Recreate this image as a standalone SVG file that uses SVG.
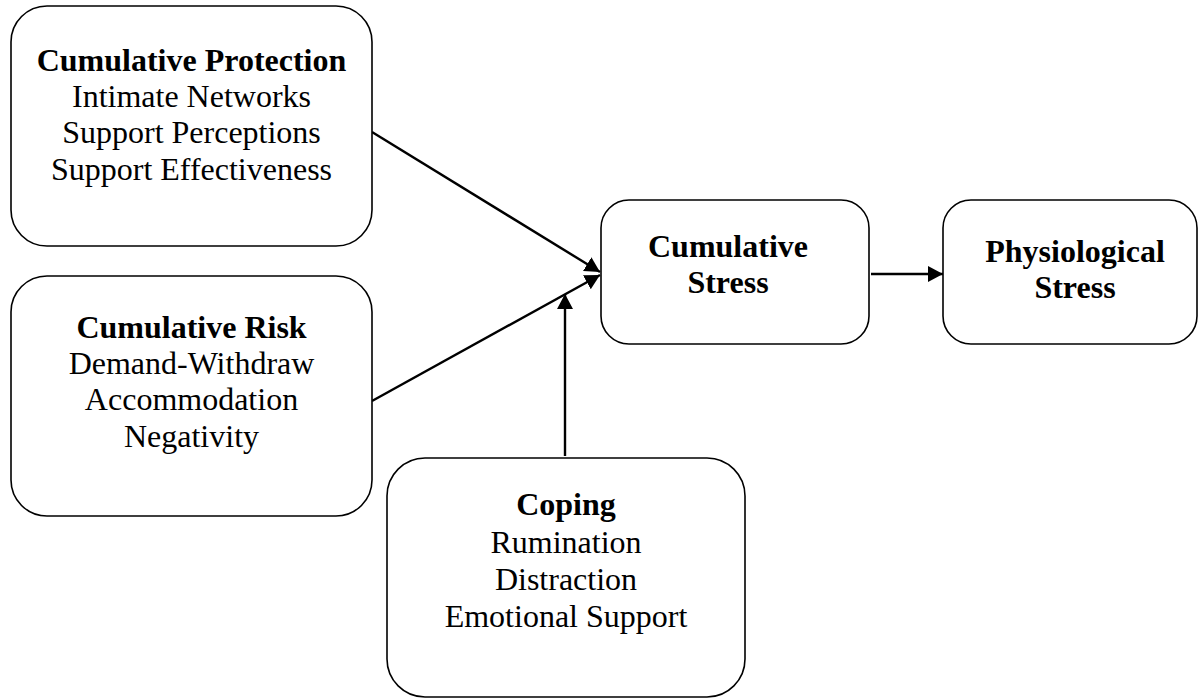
<svg xmlns="http://www.w3.org/2000/svg" width="1198" height="698" viewBox="0 0 1198 698">
<style>
.box{fill:#fff;stroke:#000;stroke-width:1.6}
.t{font-family:"Liberation Serif","Times New Roman",serif;font-size:32px;fill:#000;text-anchor:middle}
.b{font-weight:bold}
.c{stroke:#000;stroke-width:2.4;fill:none}
</style>
<defs>
<marker id="ah" markerUnits="userSpaceOnUse" markerWidth="16" markerHeight="17" refX="15" refY="8" orient="auto">
<path d="M0,0 L15,8 L0,16 z" fill="#000"/>
</marker>
</defs>
<rect width="1198" height="698" fill="#fff"/>
<g id="connectors">
<line class="c" x1="372" y1="132" x2="600" y2="272" marker-end="url(#ah)"/>
<line class="c" x1="372" y1="401" x2="600" y2="275" marker-end="url(#ah)"/>
<line class="c" x1="565" y1="456" x2="565" y2="294" marker-end="url(#ah)"/>
<line class="c" x1="871" y1="274" x2="943" y2="274" marker-end="url(#ah)"/>
</g>
<g id="protection">
<rect class="box" x="11" y="6" width="361" height="240" rx="36"/>
<text class="t b" x="191.5" y="71">Cumulative Protection</text>
<text class="t" x="191.5" y="107">Intimate Networks</text>
<text class="t" x="191.5" y="143">Support Perceptions</text>
<text class="t" x="191.5" y="180">Support Effectiveness</text>
</g>
<g id="risk">
<rect class="box" x="11" y="276" width="361" height="240" rx="36"/>
<text class="t b" x="191.5" y="338">Cumulative Risk</text>
<text class="t" x="191.5" y="374">Demand-Withdraw</text>
<text class="t" x="191.5" y="410">Accommodation</text>
<text class="t" x="191.5" y="447">Negativity</text>
</g>
<g id="coping">
<rect class="box" x="387" y="458" width="358" height="239" rx="38"/>
<text class="t b" x="566" y="515">Coping</text>
<text class="t" x="566" y="553">Rumination</text>
<text class="t" x="566" y="590">Distraction</text>
<text class="t" x="566" y="627">Emotional Support</text>
</g>
<g id="cumulative-stress">
<rect class="box" x="601" y="200" width="268" height="144" rx="28"/>
<text class="t b" x="728" y="257">Cumulative</text>
<text class="t b" x="728" y="293">Stress</text>
</g>
<g id="physiological-stress">
<rect class="box" x="943" y="200" width="254" height="144" rx="28"/>
<text class="t b" x="1075" y="262">Physiological</text>
<text class="t b" x="1075" y="298">Stress</text>
</g>
</svg>
